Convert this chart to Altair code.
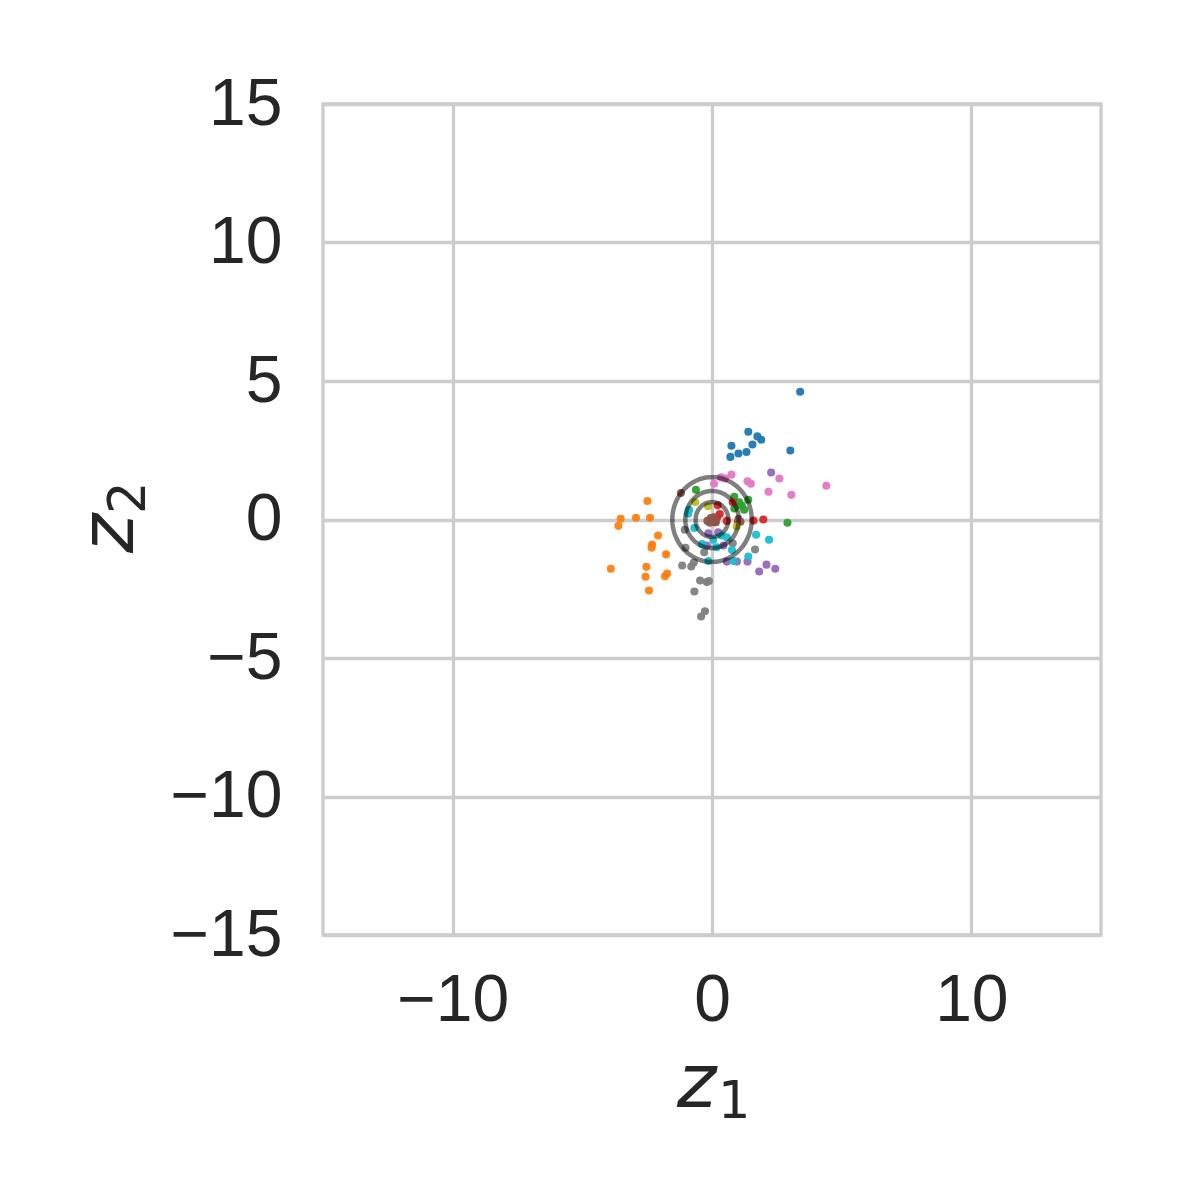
import altair as alt
import numpy as np
import pandas as pd

# latent points per class
blue_x = [3.40, 1.40, 1.75, 1.90, 1.56, 0.75, 1.33, 1.02, 0.71, 3.02]
blue_y = [4.61, 3.17, 3.00, 2.88, 2.71, 2.66, 2.44, 2.38, 2.26, 2.49]
orange_x = [-2.49, -3.52, -2.93, -2.39, -3.61, -2.08, -2.31, -2.33, -1.77, -3.90, -2.53, -2.56, -1.73, -1.81, -2.43]
orange_y = [0.67, 0.03, 0.06, 0.06, -0.23, -0.58, -0.90, -1.02, -1.26, -1.78, -1.71, -2.07, -1.95, -2.05, -2.56]
green_x = [-0.62, 0.86, 1.40, 1.15, 1.24, 0.86, 2.91, 1.05]
green_y = [1.07, 0.82, 0.71, 0.50, 0.35, 0.40, -0.12, 0.62]
red_x = [0.22, 0.80, 0.20, 0.10, 0.57, 1.00, 1.60, 1.98, 0.30]
red_y = [0.51, 0.62, 0.08, -0.10, -0.05, -0.10, -0.04, 0.00, 0.20]
purple_x = [2.28, 1.82, 2.10, 2.44, 0.57, 0.96, 1.37, -0.14, 0.24, -0.20, 0.44]
purple_y = [1.70, -1.88, -1.63, -1.78, -1.52, -1.52, -1.52, -0.50, -0.46, -0.94, -0.94]
brown_x = [-1.20, -0.18, -0.05, 0.08, 0.15, -0.08, 0.02, 1.02, 1.10]
brown_y = [0.96, -0.05, 0.05, 0.08, -0.10, -0.12, 0.00, 0.02, -0.08]
pink_x = [0.08, 0.35, 0.50, 0.75, 1.37, 1.50, 2.18, 2.60, 3.06, 4.41]
pink_y = [1.29, 1.52, 1.48, 1.62, 1.38, 1.29, 1.00, 1.48, 0.89, 1.22]
gray_x = [-1.05, -1.02, -1.15, -0.80, -0.70, -0.30, -0.46, -0.20, -0.12, -0.68, -0.27, -0.42, 1.66, 0.80]
gray_y = [-0.37, -1.02, -1.66, -1.70, -1.55, -1.18, -2.20, -2.26, -2.22, -2.60, -3.31, -3.50, -1.08, -0.86]
olive_x = [-0.65, -0.15, 0.95]
olive_y = [0.63, 0.48, -0.25]
cyan_x = [-0.88, -0.92, -0.68, -0.38, 0.05, 0.37, 0.57, 0.18, -0.14, 0.77, 0.83, 1.40, 1.70, 2.20]
cyan_y = [0.35, 0.21, -0.31, -0.89, -0.73, -0.58, -0.64, -1.00, -1.50, -1.10, -1.50, -1.34, -0.55, -0.73]

classes = ["0", "1", "2", "3", "4", "5", "6", "7", "8", "9"]
tab10 = ["#1f77b4", "#ff7f0e", "#2ca02c", "#d62728", "#9467bd",
         "#8c564b", "#e377c2", "#7f7f7f", "#bcbd22", "#17becf"]
xs = [blue_x, orange_x, green_x, red_x, purple_x, brown_x, pink_x, gray_x, olive_x, cyan_x]
ys = [blue_y, orange_y, green_y, red_y, purple_y, brown_y, pink_y, gray_y, olive_y, cyan_y]

contour_radii = [0.63, 1.03, 1.53]

x_ticks = [-10, 0, 10]
y_ticks = [-15, -10, -5, 0, 5, 10, 15]

rows = []
for c, xl, yl in zip(classes, xs, ys):
    for a, b in zip(xl, yl):
        rows.append({"z1": a, "z2": b, "label": c})
pts = pd.DataFrame(rows)

crow = []
theta = np.linspace(0, 2 * np.pi, 181)
for i, r in enumerate(contour_radii):
    for k, t in enumerate(theta):
        crow.append({"z1": r * np.cos(t), "z2": r * np.sin(t), "ring": i, "k": k})
circ = pd.DataFrame(crow)

xscale = alt.Scale(domain=[-15, 15], nice=False, zero=False)
yscale = alt.Scale(domain=[-15, 15], nice=False, zero=False)

font = "Liberation Sans"
ink = "#262626"
xaxis = alt.Axis(values=x_ticks, title=None, grid=True, ticks=False,
                 labelFontSize=66, labelFont=font, labelColor=ink,
                 labelPadding=33, domain=False, labelFlush=False,
                 gridColor="#cccccc", gridWidth=3.3)
yaxis = alt.Axis(values=y_ticks, title=None, grid=True, ticks=False,
                 labelFontSize=66, labelFont=font, labelColor=ink,
                 labelPadding=41, domain=False, labelFlush=False,
                 gridColor="#cccccc", gridWidth=3.3)

points = alt.Chart(pts).mark_circle(size=65, opacity=0.95).encode(
    x=alt.X("z1:Q", scale=xscale, axis=xaxis),
    y=alt.Y("z2:Q", scale=yscale, axis=yaxis),
    color=alt.Color("label:N", scale=alt.Scale(domain=classes, range=tab10), legend=None),
)

rings = alt.Chart(circ).mark_line(color="black", opacity=0.5, strokeWidth=4.5).encode(
    x=alt.X("z1:Q", scale=xscale),
    y=alt.Y("z2:Q", scale=yscale),
    detail="ring:N",
    order="k:Q",
)

# axis titles: italic z with upright subscript digit (matplotlib mathtext look)
one = pd.DataFrame({"t": [0]})
xt_z = alt.Chart(one).mark_text(text="z", font="DejaVu Sans", fontStyle="italic",
                                fontSize=75, color=ink, align="left",
                                baseline="alphabetic").encode(
    x=alt.value(354), y=alt.value(1003))
xt_1 = alt.Chart(one).mark_text(text="1", font="DejaVu Sans", fontSize=51,
                                color=ink, align="left",
                                baseline="alphabetic").encode(
    x=alt.value(395), y=alt.value(1014))
yt_z = alt.Chart(one).mark_text(text="z", font="DejaVu Sans", fontStyle="italic",
                                fontSize=75, color=ink, align="left", angle=270,
                                baseline="alphabetic").encode(
    x=alt.value(-190), y=alt.value(449))
yt_2 = alt.Chart(one).mark_text(text="2", font="DejaVu Sans", fontSize=51,
                                color=ink, align="left", angle=270,
                                baseline="alphabetic").encode(
    x=alt.value(-178), y=alt.value(410))

chart = alt.layer(points, rings, xt_z, xt_1, yt_z, yt_2).properties(
    width=778, height=831,
    padding={"left": 315, "top": 96, "right": 60, "bottom": 200},
    autosize=alt.AutoSizeParams(type="none"),
).configure(background="white").configure_view(
    stroke="#cccccc", strokeWidth=3.3
)

chart.save("out.html", embed_options={"renderer": "svg", "actions": False})
